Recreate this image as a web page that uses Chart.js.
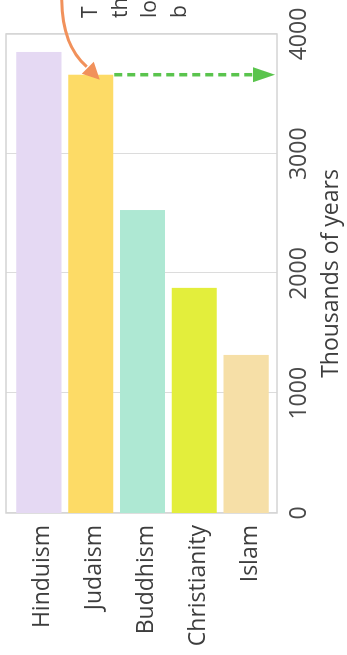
<!DOCTYPE html>
<html>
<head>
<meta charset="utf-8">
<script src="https://cdn.jsdelivr.net/npm/chart.js@4/dist/chart.umd.min.js"></script>
<style>
  html, body { margin: 0; padding: 0; background: #ffffff; overflow: hidden; }
  #page { position: relative; width: 347px; height: 655px; overflow: hidden; background: #fff; }
  /* the chart is laid out lying on its side, then turned upright */
  #turn { position: absolute; left: 0; top: 0; width: 655px; height: 347px;
          transform-origin: 0 0; transform: translateY(655px) rotate(-90deg); }
  canvas { display: block; }
</style>
</head>
<body>
<div id="page">
  <div id="turn"><canvas id="chart" width="655" height="347"></canvas></div>
</div>
<script>
// Age of the major world religions
const categories = ['Hinduism', 'Judaism', 'Buddhism', 'Christianity', 'Islam'];
const ages = [3850, 3660, 2530, 1880, 1320];
const barColors = ['#e5d9f3', '#fddb66', '#aee8d3', '#e3ee3c', '#f6dfa7'];
const valueTicks = [0, 1000, 2000, 3000, 4000];
const axisTitle = 'Thousands of years';
const noteLines = ['T', 'th', 'lo', 'b'];
const highlighted = 1; // Judaism

const FONT = "'Open Sans', 'Noto Sans', sans-serif";
const TEXT = '#3d3d3d';

// keep the plot area exactly where the layout puts it
function noOverflowPadding(s) {
  s.paddingTop = 0; s.paddingBottom = 0; s.paddingLeft = 0; s.paddingRight = 0;
}

// frame around the plot plus the vertical value grid
const plotFrame = {
  id: 'plotFrame',
  beforeDatasetsDraw(chart) {
    const { ctx, chartArea: a, scales: { x } } = chart;
    const top = a.top - 7, bottom = a.bottom + 5;
    ctx.save();
    ctx.strokeStyle = '#dcdcdc';
    ctx.lineWidth = 1;
    valueTicks.forEach(v => {
      const u = Math.round(x.getPixelForValue(v)) + 0.5;
      ctx.beginPath(); ctx.moveTo(u, top); ctx.lineTo(u, bottom); ctx.stroke();
    });
    ctx.strokeStyle = '#d4d4d4';
    ctx.lineWidth = 1.5;
    const u0 = x.getPixelForValue(valueTicks[0]);
    const u1 = x.getPixelForValue(valueTicks[valueTicks.length - 1]);
    ctx.strokeRect(u0, top, u1 - u0, bottom - top);
    ctx.restore();
  }
};

// pointer arrows and the caption running off the edge
const callout = {
  id: 'callout',
  afterDatasetsDraw(chart) {
    const { ctx, chartArea: a, scales: { x } } = chart;
    const bar = chart.getDatasetMeta(0).data[highlighted];
    const half = bar.height / 2;
    const u = x.getPixelForValue(ages[highlighted]);
    ctx.save();

    // dashed green arrow carrying the bar's value across to the axis
    const tipV = a.bottom + 3, baseV = tipV - 22;
    ctx.strokeStyle = '#5ac44d';
    ctx.fillStyle = '#5ac44d';
    ctx.lineWidth = 3.5;
    ctx.setLineDash([8, 5]);
    ctx.beginPath(); ctx.moveTo(u, bar.y + half + 1); ctx.lineTo(u, baseV + 2); ctx.stroke();
    ctx.setLineDash([]);
    ctx.beginPath();
    ctx.moveTo(u, tipV); ctx.lineTo(u - 7.5, baseV); ctx.lineTo(u + 7.5, baseV); ctx.closePath();
    ctx.fill();

    // curved orange arrow pointing at the top of the bar
    const tip = { u: u - 5, v: bar.y + 9 };
    const base = { u: tip.u + 12, v: tip.v - 12 };
    ctx.strokeStyle = '#f1915b';
    ctx.fillStyle = '#f1915b';
    ctx.lineWidth = 3;
    ctx.beginPath();
    ctx.moveTo(chart.width + 2, tip.v - 38);
    ctx.bezierCurveTo(tip.u + 49, tip.v - 38, tip.u + 26, tip.v - 28, base.u + 1, base.v - 1);
    ctx.stroke();
    ctx.beginPath();
    ctx.moveTo(tip.u, tip.v);
    ctx.lineTo(base.u + 6, base.v + 6);
    ctx.lineTo(base.u - 6, base.v - 6);
    ctx.closePath();
    ctx.fill();

    // caption lines
    ctx.fillStyle = TEXT;
    ctx.font = "21px " + FONT;
    ctx.textAlign = 'left';
    ctx.textBaseline = 'alphabetic';
    noteLines.forEach((t, i) => ctx.fillText(t, chart.width - 18, 97 + i * 29.5));
    ctx.restore();
  }
};

new Chart(document.getElementById('chart'), {
  type: 'bar',
  data: {
    labels: categories,
    datasets: [{
      data: ages,
      backgroundColor: barColors,
      borderWidth: 0,
      barPercentage: 0.87,
      categoryPercentage: 1.0
    }]
  },
  options: {
    indexAxis: 'y',
    responsive: false,
    animation: false,
    events: [],
    layout: { padding: { top: 13, right: 34, bottom: 0, left: 0 } },
    plugins: { legend: { display: false }, tooltip: { enabled: false } },
    scales: {
      x: {
        min: valueTicks[0],
        max: valueTicks[valueTicks.length - 1],
        afterBuildTicks(s) { s.ticks = valueTicks.map(v => ({ value: v })); },
        ticks: {
          color: '#4a4a4a', font: { family: FONT, size: 23 }, padding: 14, maxRotation: 0,
          callback: v => String(v)
        },
        grid: { display: false, drawTicks: false },
        border: { display: false },
        title: { display: true, text: axisTitle, color: TEXT, font: { family: FONT, size: 23 }, padding: { top: 0, bottom: 2 } },
        afterFit(s) { s.height = 75; noOverflowPadding(s); }
      },
      y: {
        ticks: { color: TEXT, font: { family: FONT, size: 23 }, padding: 12, labelOffset: 4 },
        grid: { display: false, drawTicks: false },
        border: { display: false },
        afterFit(s) { s.width = 142; noOverflowPadding(s); }
      }
    }
  },
  plugins: [plotFrame, callout]
});
</script>
</body>
</html>
